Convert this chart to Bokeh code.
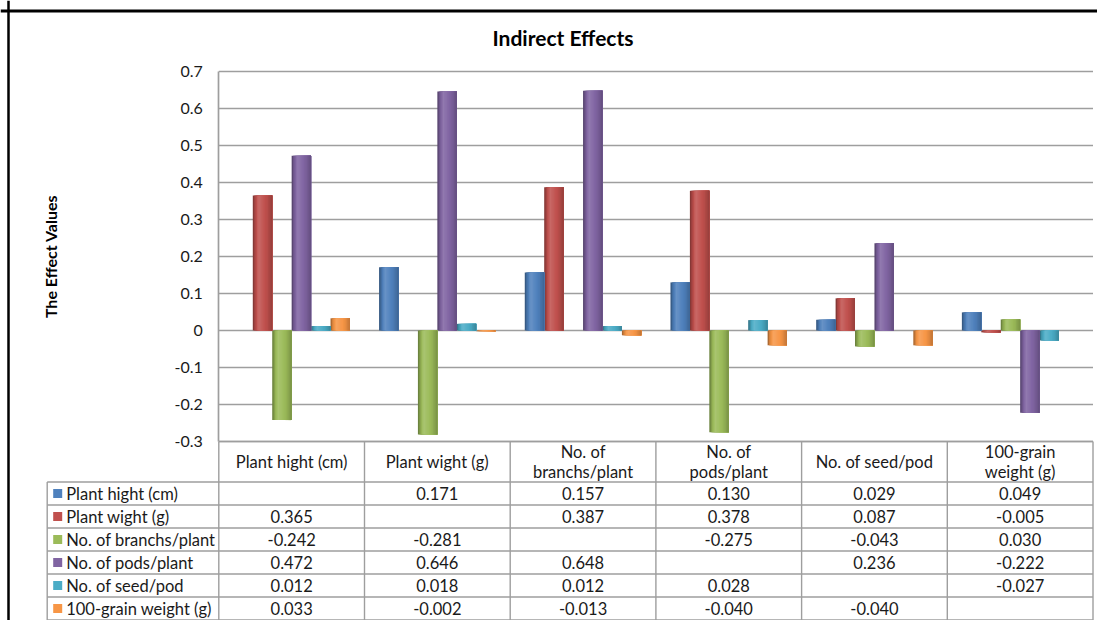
import numpy as np
from bokeh.plotting import figure
from bokeh.models import Range1d, LinearAxis, FixedTicker, Span, Label
from bokeh.core.properties import value
from bokeh.embed import file_html
from bokeh.resources import INLINE

# ---------------- data ----------------
title = "Indirect Effects"
y_label = "The Effect Values"
categories = ["Plant hight (cm)", "Plant wight (g)", "No. of branchs/plant",
              "No. of pods/plant", "No. of seed/pod", "100-grain weight (g)"]
header_labels = ["Plant hight (cm)", "Plant wight (g)", "No. of\nbranchs/plant",
                 "No. of\npods/plant", "No. of seed/pod", "100-grain\nweight (g)"]
series_names = ["Plant hight (cm)", "Plant wight (g)", "No. of branchs/plant",
                "No. of pods/plant", "No. of seed/pod", "100-grain weight (g)"]
plant_hight = [None, 0.171, 0.157, 0.130, 0.029, 0.049]
plant_wight = [0.365, None, 0.387, 0.378, 0.087, -0.005]
branchs_per_plant = [-0.242, -0.281, None, -0.275, -0.043, 0.030]
pods_per_plant = [0.472, 0.646, 0.648, None, 0.236, -0.222]
seed_per_pod = [0.012, 0.018, 0.012, 0.028, None, -0.027]
grain_weight_100 = [0.033, -0.002, -0.013, -0.040, -0.040, None]
y_ticks = [-0.3, -0.2, -0.1, 0, 0.1, 0.2, 0.3, 0.4, 0.5, 0.6, 0.7]

series_values = [plant_hight, plant_wight, branchs_per_plant,
                 pods_per_plant, seed_per_pod, grain_weight_100]
colors = ["#4F81BD", "#C0504D", "#9BBB59", "#8064A2", "#4BACC6", "#F79646"]

# ---------------- layout (canvas pixels) ----------------
FONT = "Lato"
GRID = "#9E9E9E"
TXT = "#1a1a1a"
W, H = 1097, 620
PLOT_LEFT = 218.3        # x of the value axis
CAT_PX = 145.7           # width of one category column
LEG_LEFT = 46.7          # left edge of the data-table legend column
PLOT_TOP = 71            # y of the top gridline
UNIT_PX = 370            # pixels per 1.0 of effect value
HEADER_PX = 40.5
ROW_PX = 23.0
n_cat = len(categories)
n_ser = len(series_names)
TABLE_PX = HEADER_PX + n_ser * ROW_PX
LEG = (PLOT_LEFT - LEG_LEFT) / CAT_PX

ymin, ymax = min(y_ticks), max(y_ticks)
chart_px = (ymax - ymin) * UNIT_PX
below_px = H - PLOT_TOP - chart_px
x_start = -PLOT_LEFT / CAT_PX
x_end = (W - PLOT_LEFT) / CAT_PX
y_start = ymin - below_px / UNIT_PX
y_end = ymax + PLOT_TOP / UNIT_PX

p = figure(width=W, height=H, x_range=Range1d(x_start, x_end), y_range=Range1d(y_start, y_end),
           output_backend="svg", toolbar_location=None, tools="",
           x_axis_location=None, y_axis_location=None, min_border=0)
p.title = None
p.extra_y_ranges = {"tbl": Range1d(start=below_px, end=-(PLOT_TOP + chart_px))}
p.outline_line_color = None
p.xgrid.visible = False
p.ygrid.visible = False
p.background_fill_color = "white"
p.border_fill_color = "white"

# outer chart border (left and top)
p.add_layout(Span(location=x_start + 8 / CAT_PX, dimension="height",
                  line_color="black", line_width=2.5))
p.add_layout(Span(location=y_end - 10.5 / UNIT_PX, dimension="width",
                  line_color="black", line_width=3))

# title
p.add_layout(Label(x=(x_start + x_end) / 2 + 14 / CAT_PX, y=ymax, y_offset=34, text=title,
                   text_align="center", text_baseline="middle", text_font=FONT,
                   text_font_size="21px", text_font_style="bold", text_color="black"))

# gridlines
p.segment(x0=0, x1=n_cat, y0=y_ticks, y1=y_ticks, line_color=GRID, line_width=1.7)

# value axis at x = 0
ax = LinearAxis(fixed_location=0, bounds=(ymin, ymax), ticker=FixedTicker(ticks=y_ticks),
                axis_label=y_label)
ax.major_label_overrides = {t: "%g" % t for t in y_ticks}
ax.major_tick_out = 0
ax.major_tick_in = 0
ax.minor_tick_out = 0
ax.minor_tick_in = 0
ax.axis_line_color = GRID
ax.axis_line_width = 1.7
ax.major_label_text_font = FONT
ax.major_label_text_font_size = "16px"
ax.major_label_text_color = TXT
ax.major_label_standoff = 16
ax.axis_label_text_font = FONT
ax.axis_label_text_font_size = "16px"
ax.axis_label_text_font_style = "bold"
ax.axis_label_text_color = "black"
ax.axis_label_standoff = 111
p.add_layout(ax, "left")

# bars with cylinder-like shading (layered left to right, no seams)
bw = 1.0 / (n_ser + 1.5)
N_STRIPS = 14
prof_x = [0.0, 0.1, 0.3, 0.5, 0.75, 1.0]
prof_f = [0.62, 0.85, 1.15, 1.06, 0.95, 0.78]


def shade(hexcol, f):
    r, g, b = (int(hexcol[i:i + 2], 16) for i in (1, 3, 5))
    if f < 1:
        r, g, b = r * f, g * f, b * f
    else:
        t = min(f - 1, 1)
        r, g, b = r + (255 - r) * t, g + (255 - g) * t, b + (255 - b) * t
    return "#%02x%02x%02x" % (int(r), int(g), int(b))


sw = bw / N_STRIPS
for k in range(N_STRIPS):
    xs, ws, tops, cols = [], [], [], []
    t = (k + 0.5) / N_STRIPS
    for i, vals in enumerate(series_values):
        for j, v in enumerate(vals):
            if v is None:
                continue
            c = j + 0.5 + (i - (n_ser - 1) / 2) * bw
            left = c - bw / 2 + k * sw
            right = c + bw / 2
            xs.append((left + right) / 2)
            ws.append(right - left)
            tops.append(v)
            cols.append(shade(colors[i], float(np.interp(t, prof_x, prof_f))))
    p.vbar(x=xs, top=tops, bottom=0, width=ws, fill_color=cols, line_color=None)

# ---------------- data table ----------------
row_lines = [HEADER_PX + r * ROW_PX for r in range(n_ser + 1)]
p.segment(x0=0, x1=n_cat, y0=0, y1=0, line_color=GRID, line_width=1.4, y_range_name="tbl")
p.segment(x0=-LEG, x1=n_cat, y0=row_lines, y1=row_lines, line_color=GRID, line_width=1.4,
          y_range_name="tbl")
p.segment(x0=-LEG, x1=-LEG, y0=HEADER_PX, y1=TABLE_PX, line_color=GRID, line_width=1.4,
          y_range_name="tbl")
vx = list(range(n_cat + 1))
p.segment(x0=vx, x1=vx, y0=0, y1=TABLE_PX, line_color=GRID, line_width=1.4, y_range_name="tbl")

TFS = "16.5px"
p.text(x=[j + 0.5 for j in range(n_cat)], y=HEADER_PX / 2, text=header_labels,
       text_align="center", text_baseline="middle", text_font=value(FONT),
       text_font_size=TFS, text_color=TXT, text_line_height=1.0, y_range_name="tbl")

cx, cy, ct = [], [], []
for i, vals in enumerate(series_values):
    for j, v in enumerate(vals):
        if v is None:
            continue
        cx.append(j + 0.5)
        cy.append(HEADER_PX + (i + 0.5) * ROW_PX)
        ct.append("%.3f" % v)
p.text(x=cx, y=cy, text=ct, text_align="center", text_baseline="middle",
       text_font=value(FONT), text_font_size=TFS, text_color=TXT, y_range_name="tbl")

ry = [HEADER_PX + (i + 0.5) * ROW_PX for i in range(n_ser)]
p.scatter(x=-LEG + 10.5 / CAT_PX, y=ry, marker="square", size=9, fill_color=colors,
          line_color=None, y_range_name="tbl")
p.text(x=-LEG, y=ry, x_offset=19, text=series_names, text_align="left",
       text_baseline="middle", text_font=value(FONT), text_font_size=TFS,
       text_color=TXT, y_range_name="tbl")

open("out.html", "w").write(file_html(p, INLINE))
